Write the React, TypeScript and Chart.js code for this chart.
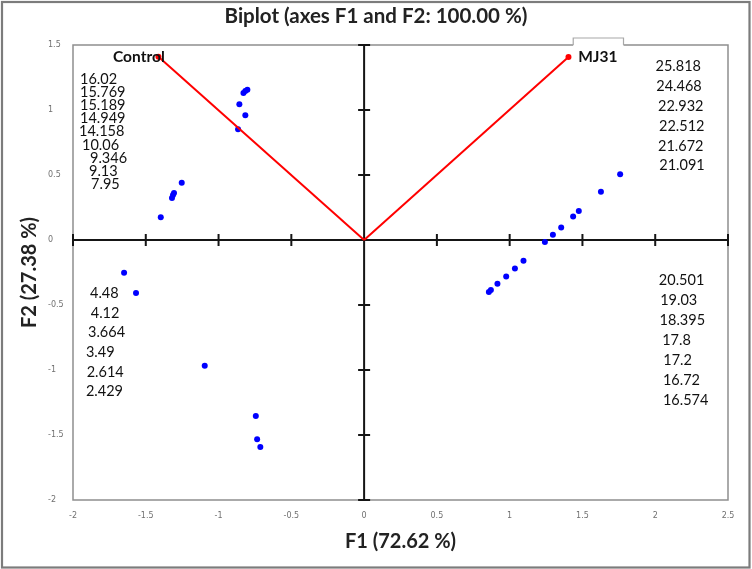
import React, { useEffect, useRef } from "react";
import { Chart, registerables } from "chart.js";

Chart.register(...registerables);

// ---- texts ----
const titleText = "Biplot (axes F1 and F2: 100.00 %)";
const xAxisTitle = "F1 (72.62 %)";
const yAxisTitle = "F2 (27.38 %)";

// ---- tick values ----
const xTickValues = [-2, -1.5, -1, -0.5, 0, 0.5, 1, 1.5, 2, 2.5];
const yTickValues = [-2, -1.5, -1, -0.5, 0, 0.5, 1, 1.5];

// ---- observations (F1, F2) ----
const obsF1 = [
  -1.397, -1.32, -1.313, -1.306, -1.253, -0.866, -0.816, -0.857, -0.829, -0.816, -0.802,
  1.759, 1.627, 1.475, 1.436, 1.354, 1.297, 1.242,
  1.095, 1.036, 0.976, 0.916, 0.871, 0.857,
  -1.649, -1.567, -1.095, -0.744, -0.735, -0.713,
];
const obsF2 = [
  0.175, 0.323, 0.346, 0.362, 0.441, 0.851, 0.959, 1.044, 1.131, 1.146, 1.156,
  0.505, 0.372, 0.223, 0.18, 0.097, 0.041, -0.015,
  -0.159, -0.22, -0.28, -0.336, -0.385, -0.4,
  -0.251, -0.408, -0.967, -1.354, -1.533, -1.592,
];

// ---- variables (vectors) ----
const varNames = ["Control", "MJ31"];
const varF1 = [-1.413, 1.404];
const varF2 = [1.41, 1.408];

// ---- value annotations ----
const labelsTopLeft = ["16.02", "15.769", "15.189", "14.949", "14.158", "10.06", "9.346", "9.13", "7.95"];
const labelsTopRight = ["25.818", "24.468", "22.932", "22.512", "21.672", "21.091"];
const labelsBottomRight = ["20.501", "19.03", "18.395", "17.8", "17.2", "16.72", "16.574"];
const labelsBottomLeft = ["4.48", "4.12", "3.664", "3.49", "2.614", "2.429"];

// annotation placement (data units)
const noteLayout = [
  { texts: labelsTopLeft, x: [-1.952, -1.952, -1.952, -1.952, -1.959, -1.938, -1.883, -1.89, -1.876], y0: 1.236, dy: 0.1008 },
  { texts: labelsTopRight, x: [2.002, 2.007, 2.019, 2.026, 2.019, 2.028], y0: 1.333, dy: 0.1523 },
  { texts: labelsBottomRight, x: [2.025, 2.034, 2.03, 2.048, 2.055, 2.053, 2.053], y0: -0.313, dy: 0.1538 },
  { texts: labelsBottomLeft, x: [-1.883, -1.878, -1.897, -1.911, -1.906, -1.911], y0: -0.41, dy: 0.1515 },
];
const varLabelPos = [
  { x: -1.725, y: 1.408 },
  { x: 1.471, y: 1.408 },
];

const decorPlugin = {
  id: "biplotDecor",
  beforeDraw(chart: any) {
    const { ctx, width, height } = chart;
    ctx.save();
    ctx.fillStyle = "#ffffff";
    ctx.fillRect(0, 0, width, height);
    ctx.strokeStyle = "#7c7c7c";
    ctx.lineWidth = 2.2;
    ctx.strokeRect(2, 2, width - 4.5, height - 3.5);
    ctx.restore();
  },
  beforeDatasetsDraw(chart: any) {
    const { ctx, chartArea } = chart;
    const xs = chart.scales.x;
    const ys = chart.scales.y;
    ctx.save();
    // plot frame
    ctx.strokeStyle = "#8e8e8e";
    ctx.lineWidth = 1.5;
    ctx.strokeRect(chartArea.left, chartArea.top, chartArea.right - chartArea.left, chartArea.bottom - chartArea.top);
    // axes through origin
    const x0 = xs.getPixelForValue(0);
    const y0 = ys.getPixelForValue(0);
    ctx.strokeStyle = "#151515";
    ctx.lineWidth = 2;
    ctx.beginPath();
    ctx.moveTo(chartArea.left, y0);
    ctx.lineTo(chartArea.right, y0);
    ctx.moveTo(x0, chartArea.top);
    ctx.lineTo(x0, chartArea.bottom);
    xs.ticks.forEach((t: any) => {
      const px = xs.getPixelForValue(t.value);
      ctx.moveTo(px, y0 - 6);
      ctx.lineTo(px, y0 + 6);
    });
    ys.ticks.forEach((t: any) => {
      const py = ys.getPixelForValue(t.value);
      ctx.moveTo(x0 - 6, py);
      ctx.lineTo(x0 + 6, py);
    });
    ctx.stroke();
    ctx.restore();
  },
  afterDatasetsDraw(chart: any) {
    const { ctx, chartArea, width } = chart;
    const xs = chart.scales.x;
    const ys = chart.scales.y;
    ctx.save();
    // numeric annotations
    ctx.fillStyle = "#111111";
    ctx.font = "14.5px Lato";
    ctx.textAlign = "left";
    ctx.textBaseline = "middle";
    noteLayout.forEach((g) => {
      g.texts.forEach((t, i) => {
        ctx.fillText(t, xs.getPixelForValue(g.x[i]), ys.getPixelForValue(g.y0 - i * g.dy));
      });
    });
    // variable labels
    ctx.font = "bold 15.5px Lato";
    varNames.forEach((name, i) => {
      const px = xs.getPixelForValue(varLabelPos[i].x);
      const py = ys.getPixelForValue(varLabelPos[i].y);
      if (i === 1) {
        const w = ctx.measureText(name).width;
        const l = px - 5;
        const r = px + w + 6;
        const top = chartArea.top - 7;
        ctx.fillStyle = "#ffffff";
        ctx.fillRect(l, top, r - l, 9);
        ctx.strokeStyle = "#a8a8a8";
        ctx.lineWidth = 1.2;
        ctx.beginPath();
        ctx.moveTo(l, chartArea.top);
        ctx.lineTo(l, top);
        ctx.lineTo(r, top);
        ctx.lineTo(r, chartArea.top);
        ctx.stroke();
      }
      ctx.fillStyle = "#111111";
      ctx.fillText(name, px, py);
    });
    // main title
    ctx.font = "bold 20.5px Lato";
    ctx.textAlign = "center";
    ctx.fillStyle = "#222222";
    ctx.fillText(titleText, width / 2, 16);
    ctx.restore();
  },
};

export default function App() {
  const canvasRef = useRef<HTMLCanvasElement | null>(null);

  useEffect(() => {
    if (!canvasRef.current) return;
    const obsData = obsF1.map((x, i) => ({ x, y: obsF2[i] }));
    const vectorSets = varNames.map((name, i) => ({
      label: name,
      data: [
        { x: 0, y: 0 },
        { x: varF1[i], y: varF2[i] },
      ],
      showLine: true,
      borderColor: "#ff0000",
      borderWidth: 2,
      pointRadius: [0, 3],
      pointBackgroundColor: "#ff0000",
      pointBorderWidth: 0,
    }));
    const tickFont = { family: "DejaVu Sans", size: 8 };
    const titleFont = { family: "Lato", size: 20, weight: "bold" as const };
    const chart = new Chart(canvasRef.current, {
      type: "scatter",
      data: {
        datasets: [
          ...vectorSets,
          {
            label: "Observations",
            data: obsData,
            backgroundColor: "#0000ff",
            pointRadius: 3,
            pointBorderWidth: 0,
            showLine: false,
          },
        ] as any,
      },
      options: {
        animation: false,
        responsive: false,
        events: [],
        layout: { padding: { top: 45, left: 48, right: 24, bottom: 0 } },
        plugins: {
          legend: { display: false },
          tooltip: { enabled: false },
          title: { display: false },
        },
        scales: {
          x: {
            type: "linear",
            min: -2,
            max: 2.5,
            afterBuildTicks: (s: any) => {
              s.ticks = xTickValues.map((v) => ({ value: v }));
            },
            afterFit: (s: any) => {
              s.height = 69;
            },
            ticks: {
              autoSkip: false,
              maxRotation: 0,
              font: tickFont,
              color: "#707070",
              padding: 11.2,
              callback: (v: any) => String(v),
            },
            grid: { display: false, drawTicks: false },
            border: { display: false },
            title: {
              display: true,
              text: xAxisTitle,
              font: titleFont,
              color: "#222222",
              padding: { top: 0, bottom: 15.3 },
            },
          },
          y: {
            type: "linear",
            min: -2,
            max: 1.5,
            afterBuildTicks: (s: any) => {
              s.ticks = yTickValues.map((v) => ({ value: v }));
            },
            afterFit: (s: any) => {
              s.width = 25;
            },
            ticks: {
              autoSkip: false,
              crossAlign: "far",
              font: tickFont,
              color: "#707070",
              padding: 0,
              callback: (v: any) => String(v),
            },
            grid: { display: false, drawTicks: false },
            border: { display: false },
            title: {
              display: true,
              text: yAxisTitle,
              font: titleFont,
              color: "#222222",
              padding: { top: -30, bottom: 0 },
            },
          },
        },
      } as any,
      plugins: [decorPlugin],
    });
    return () => chart.destroy();
  }, []);

  return (
    <div style={{ position: "absolute", left: 0, top: 0, width: 752, height: 569 }}>
      <canvas ref={canvasRef} width={752} height={569} style={{ display: "block" }} />
    </div>
  );
}
